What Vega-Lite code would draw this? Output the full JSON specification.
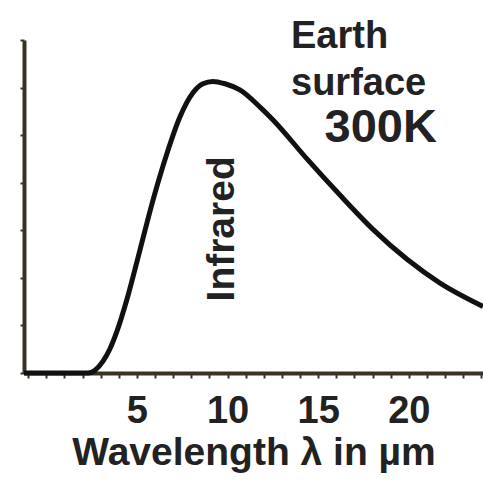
{
  "$schema": "https://vega.github.io/schema/vega-lite/v6.json",
  "width": 459,
  "height": 333,
  "autosize": {"type": "none"},
  "padding": {"left": 24, "top": 40, "right": 0, "bottom": 107},
  "background": "white",
  "config": {"view": {"stroke": null}, "font": "Liberation Sans"},
  "datasets": {
    "curve": [
      {"wavelength": -1.23, "value": 0},
      {"wavelength": 2.3, "value": 0},
      {"wavelength": 2.69, "value": 0.06},
      {"wavelength": 3.13, "value": 0.25},
      {"wavelength": 3.5, "value": 0.5},
      {"wavelength": 3.9, "value": 0.88},
      {"wavelength": 4.45, "value": 1.55},
      {"wavelength": 5.17, "value": 2.59},
      {"wavelength": 5.89, "value": 3.64},
      {"wavelength": 6.66, "value": 4.62},
      {"wavelength": 7.37, "value": 5.38},
      {"wavelength": 8.09, "value": 5.89},
      {"wavelength": 8.64, "value": 6.08},
      {"wavelength": 9.19, "value": 6.13},
      {"wavelength": 9.86, "value": 6.08},
      {"wavelength": 10.68, "value": 5.95},
      {"wavelength": 11.79, "value": 5.59},
      {"wavelength": 12.51, "value": 5.32},
      {"wavelength": 14.38, "value": 4.5},
      {"wavelength": 16.2, "value": 3.74},
      {"wavelength": 18.02, "value": 3.02},
      {"wavelength": 19.9, "value": 2.39},
      {"wavelength": 21.72, "value": 1.89},
      {"wavelength": 23.93, "value": 1.43},
      {"wavelength": 24.09, "value": 1.4}
    ],
    "small": [
      {"wavelength": 13.5, "value": 6.83, "label": "Earth"},
      {"wavelength": 13.5, "value": 5.84, "label": "surface"}
    ],
    "big": [
      {"wavelength": 21.55, "value": 4.86, "label": "300K"}
    ],
    "rot": [
      {"wavelength": 9.69, "value": 3.03, "label": "Infrared"}
    ]
  },
  "encoding": {
    "x": {
      "field": "wavelength",
      "type": "quantitative",
      "title": "Wavelength λ in µm",
      "scale": {"domain": [-1.23, 24.09], "nice": false, "zero": false},
      "axis": {
        "values": [-1, 0, 1, 2, 3, 4, 5, 6, 7, 8, 9, 10, 11, 12, 13, 14, 15, 16, 17, 18, 19, 20, 21, 22, 23, 24],
        "labelExpr": "(datum.value == 5 || datum.value == 10 || datum.value == 15 || datum.value == 20) ? datum.label : ''",
        "grid": false,
        "domainColor": "#3a3226",
        "domainWidth": 4,
        "tickColor": "#3a3226",
        "tickWidth": 2,
        "tickSize": 5,
        "labelFont": "Liberation Sans",
        "labelFontSize": 38,
        "labelFontWeight": "bold",
        "labelColor": "#222222",
        "labelPadding": 14,
        "labelFlush": false,
        "labelOverlap": false,
        "titleFont": "Liberation Sans",
        "titleFontSize": 39,
        "titleFontWeight": "bold",
        "titleColor": "#222222",
        "titlePadding": 3
      }
    },
    "y": {
      "field": "value",
      "type": "quantitative",
      "title": null,
      "scale": {"domain": [0, 7], "nice": false},
      "axis": {
        "values": [0, 1, 2, 3, 4, 5, 6, 7],
        "labels": false,
        "grid": false,
        "domainColor": "#3a3226",
        "domainWidth": 4,
        "tickColor": "#3a3226",
        "tickWidth": 2,
        "tickSize": 4
      }
    }
  },
  "layer": [
    {
      "data": {"name": "curve"},
      "mark": {"type": "line", "color": "#111111", "strokeWidth": 5, "interpolate": "monotone"}
    },
    {
      "data": {"name": "small"},
      "mark": {"type": "text", "align": "left", "baseline": "alphabetic", "fontSize": 38, "fontWeight": "bold", "color": "#222222"},
      "encoding": {"text": {"field": "label"}}
    },
    {
      "data": {"name": "big"},
      "mark": {"type": "text", "align": "right", "baseline": "alphabetic", "fontSize": 47, "fontWeight": "bold", "color": "#222222"},
      "encoding": {"text": {"field": "label"}}
    },
    {
      "data": {"name": "rot"},
      "mark": {"type": "text", "align": "center", "baseline": "middle", "angle": 270, "fontSize": 39, "fontWeight": "bold", "color": "#222222"},
      "encoding": {"text": {"field": "label"}}
    }
  ]
}
